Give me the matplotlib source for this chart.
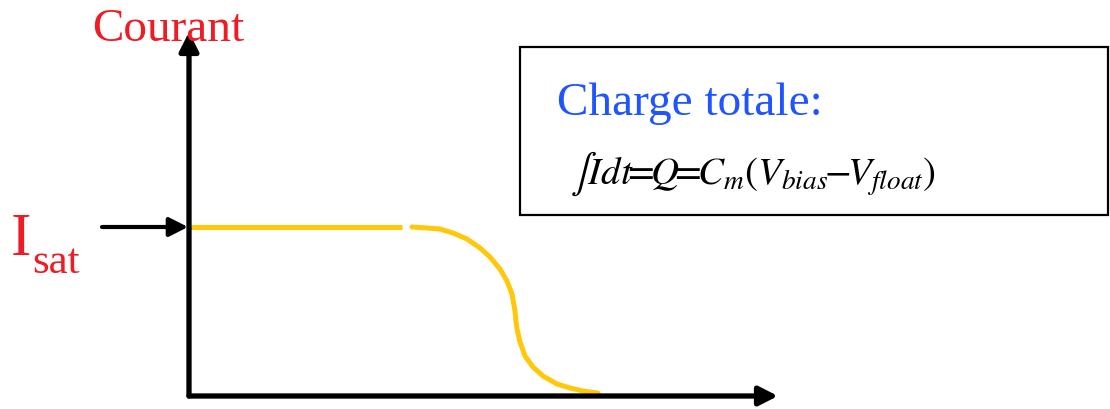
import matplotlib.pyplot as plt
from matplotlib.patches import Rectangle

plt.rcParams['font.family'] = ['Liberation Serif', 'DejaVu Serif']
plt.rcParams['mathtext.fontset'] = 'stix'

# schematic geometry, in picture units (x right, y down)
origin = (189, 397)
y_axis_tip = (189, 33)
x_axis_tip = (778, 397)
isat_start = (102, 228)
isat_tip = (188, 228)

# plateau at I_sat
plateau_x = [190, 402]
plateau_y = [228, 228]

# drop of the current
drop_x = [412, 427, 440, 453, 467, 480, 490, 500, 507, 512, 515, 516, 517,
          520, 525, 533, 543, 557, 570, 583, 598]
drop_y = [228, 229, 230, 234, 240, 249, 258, 270, 282, 295, 312, 322, 330,
          343, 357, 368, 377, 385, 389, 392, 394]

box = (520, 48, 588, 168)  # x, y, width, height

RED = '#EE1C24'
BLUE = '#1F55FF'
YELLOW = '#FFC80A'

fig = plt.figure(figsize=(11.1, 4.1), dpi=100)
ax = fig.add_axes([0, 0, 1, 1])
ax.set_xlim(0, 1110)
ax.set_ylim(410, 0)
ax.axis('off')

arrow = dict(arrowstyle='-|>,head_length=0.75,head_width=0.38', color='black',
             lw=3.8, mutation_scale=15, shrinkA=0, shrinkB=0)
ax.annotate('', xy=y_axis_tip, xytext=origin, arrowprops=arrow)
ax.annotate('', xy=x_axis_tip, xytext=origin, arrowprops=arrow)
ax.annotate('', xy=isat_tip, xytext=isat_start,
            arrowprops=dict(arrow, lw=3.0))

ax.plot(plateau_x, plateau_y, color=YELLOW, lw=3.6, solid_capstyle='butt')
ax.plot(drop_x, drop_y, color=YELLOW, lw=3.6, solid_capstyle='round',
        solid_joinstyle='round')

ax.add_patch(Rectangle(box[:2], box[2], box[3], fill=False, ec='black', lw=1.6))

ax.text(92, 41, 'Courant', color=RED, fontsize=34, va='baseline', ha='left')
ax.text(11, 255, 'I', color=RED, fontsize=44, va='baseline', ha='left')
ax.text(32, 273, 'sat', color=RED, fontsize=31, va='baseline', ha='left')

ax.text(557, 115, 'Charge totale:', color=BLUE, fontsize=34, va='baseline', ha='left')
ax.text(570, 184,
        r'$\int Idt\!\!=\!\!Q\!\!=\!\!C_m(V_{bias}\!\!-\!\!V_{float})$',
        color='black', fontsize=28, va='baseline', ha='left')

fig.savefig('out.png', dpi=100)
